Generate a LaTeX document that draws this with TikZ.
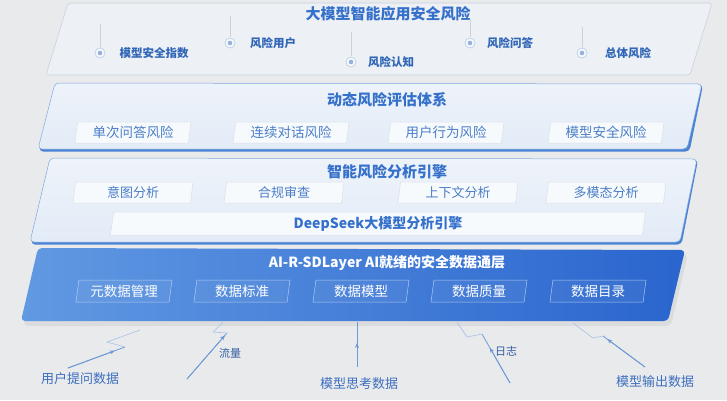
\documentclass[tikz,border=0pt]{standalone}
\usepackage{fontspec}
\setmainfont{Noto Sans CJK SC}
\usetikzlibrary{arrows.meta,calc,shapes.geometric}
\definecolor{bg}{HTML}{E9EAEC}
\definecolor{lonefill}{HTML}{EDF0F4}
\definecolor{loneline}{HTML}{C9D2DF}
\definecolor{ltop}{HTML}{EEF3FA}
\definecolor{lbot}{HTML}{E2EBF7}
\definecolor{ledge}{HTML}{4A82D4}
\definecolor{lline}{HTML}{7FA7E0}
\definecolor{dleft}{HTML}{6199E2}
\definecolor{dright}{HTML}{2A65CE}
\definecolor{ttl}{HTML}{3571CB}
\definecolor{itm}{HTML}{4B7EC7}
\definecolor{lab}{HTML}{3D6FBE}
\definecolor{conn}{HTML}{6E98D6}
\definecolor{connlt}{HTML}{AFC6E7}
\definecolor{vln}{HTML}{CDD2DA}
\tikzset{
  ttlfont/.style={font=\fontsize{15}{18}\selectfont\bfseries, text=ttl, inner sep=0pt},
  oneitem/.style={font=\fontsize{11.5}{14}\selectfont\bfseries, text=ttl!90!black, inner sep=0pt},
  subbox/.style={trapezium, trapezium left angle=78, trapezium right angle=102,
     trapezium stretches body, minimum height=21pt, inner sep=0pt,
     fill=white!55!ltop, draw=black!8!ltop, line width=0.5pt,
     font=\fontsize{13.5}{16}\selectfont, text=itm},
  darkbox/.style={trapezium, trapezium left angle=77, trapezium right angle=103,
     trapezium stretches body, minimum height=22pt, minimum width=96pt, inner sep=0pt,
     fill=white, fill opacity=0.05, text opacity=1, draw=white!60!dleft, draw opacity=0.85, line width=0.5pt,
     font=\fontsize{13.5}{16}\selectfont, text=white},
  ringdot/.style={circle, minimum size=10pt, inner sep=0pt, fill=white!60!lonefill, draw=itm!35!white, line width=0.8pt},
  innerdot/.style={circle, minimum size=4.6pt, inner sep=0pt, fill=itm!60!white},
  vline/.style={draw=vln, line width=0.6pt},
  botlab/.style={font=\fontsize{13}{16}\selectfont, text=lab, inner sep=0pt},
  smalllab/.style={font=\fontsize{11}{14}\selectfont, text=lab!85!black, inner sep=0pt},
  connline/.style={draw=conn, line width=0.8pt},
  connfade/.style={draw=connlt, line width=0.7pt},
  connarrow/.style={draw=conn, line width=0.8pt, -{Stealth[length=5pt,width=4pt]}},
}
\begin{document}
\begin{tikzpicture}[x=1pt,y=-1pt]
\fill[bg] (0,0) rectangle (727,400);
\useasboundingbox (0,0) rectangle (727,400);

% ---------- Layer 1
\path[fill=lonefill, draw=loneline, line width=0.6pt, rounded corners=3pt]
  (68,3)--(712,3)--(690,75)--(46,75)--cycle;
\node[ttlfont] (t1) at (388,14) {大模型智能应用安全风险};

\draw[vline] (100,24)--(100,47);
\node[ringdot] (r1) at (100,53) {}; \node[innerdot] at (r1) {};
\node[oneitem] (i1) at (154,53) {模型安全指数};

\draw[vline] (230,16)--(230,37);
\node[ringdot] (r2) at (230,43) {}; \node[innerdot] at (r2) {};
\node[oneitem] (i2) at (273,43) {风险用户};

\draw[vline] (351,32)--(351,56);
\node[ringdot] (r3) at (351,62) {}; \node[innerdot] at (r3) {};
\node[oneitem] (i3) at (391,62) {风险认知};

\draw[vline] (470,19)--(470,37);
\node[ringdot] (r4) at (470,43) {}; \node[innerdot] at (r4) {};
\node[oneitem] (i4) at (510,43) {风险问答};

\draw[vline] (582,27)--(582,47);
\node[ringdot] (r5) at (582,53) {}; \node[innerdot] at (r5) {};
\node[oneitem] (i5) at (628,53) {总体风险};

% ---------- Layer 2
\fill[ledge, rounded corners=4pt] (56,84)--(703,85)--(689.5,151.5)--(39,151.5)--cycle;
\path[top color=ltop, bottom color=lbot, draw=lline, line width=0.5pt, rounded corners=4pt]
  (55,83)--(702,84)--(687,149)--(38,149)--cycle;
\node[ttlfont] (t2) at (387,100) {动态风险评估体系};
\node[subbox, minimum width=116pt] (b21) at (133,132.5) {单次问答风险};
\node[subbox, minimum width=116pt] (b22) at (291,132.5) {连续对话风险};
\node[subbox, minimum width=116pt] (b23) at (446,132.5) {用户行为风险};
\node[subbox, minimum width=116pt] (b24) at (606,132.5) {模型安全风险};

% ---------- Layer 3
\fill[ledge, rounded corners=4pt] (51,159)--(698,160)--(681.5,244.5)--(31,244.5)--cycle;
\path[top color=ltop, bottom color=lbot, draw=lline, line width=0.5pt, rounded corners=4pt]
  (50,158)--(697,159)--(680,242)--(30,242)--cycle;
\node[ttlfont] (t3) at (387,172) {智能风险分析引擎};
\node[subbox, minimum width=120pt, font=\fontsize{13}{16}\selectfont] (b31) at (133,192.5) {意图分析};
\node[subbox, minimum width=120pt, font=\fontsize{13}{16}\selectfont] (b32) at (284,192.5) {合规审查};
\node[subbox, minimum width=120pt, font=\fontsize{13}{16}\selectfont] (b33) at (458,192.5) {上下文分析};
\node[subbox, minimum width=120pt, font=\fontsize{13}{16}\selectfont] (b34) at (606,192.5) {多模态分析};
\node[subbox, minimum width=535pt, minimum height=23pt, font=\fontsize{14}{16}\selectfont\bfseries, text=ttl] (b35) at (378,223.5) {DeepSeek大模型分析引擎};

% ---------- Layer 4
\fill[black, opacity=0.06, rounded corners=5pt] (40,252)--(688,254)--(671,326)--(23,326)--cycle;
\path[left color=dleft, right color=dright, rounded corners=4pt]
  (38,248)--(685,250)--(668,321)--(21,321)--cycle;
\node[font=\fontsize{14}{16}\selectfont\bfseries, text=white, inner sep=0pt] (t4) at (387,263) {AI-R-SDLayer AI就绪的安全数据通层};
\node[darkbox] (b41) at (124,291) {元数据管理};
\node[darkbox] (b42) at (242,291) {数据标准};
\node[darkbox] (b43) at (361,291) {数据模型};
\node[darkbox] (b44) at (479,291) {数据质量};
\node[darkbox] (b45) at (598,291) {数据目录};

% ---------- bottom labels and connectors
\node[botlab] (u1) at (80,379) {用户提问数据};
\node[smalllab] (u2) at (230,353) {流量};
\node[botlab] (u3) at (359,384) {模型思考数据};
\node[smalllab] (u4) at (506,351) {日志};
\node[botlab] (u5) at (655,382) {模型输出数据};

% 1
\coordinate (a0) at (68,368); \coordinate (a1) at (125,347);
\coordinate (a2) at (107,342); \coordinate (a3) at (140,330);
\draw[connline] (a0)--(a1);
\draw[connarrow] (a0)--($(a0)!0.82!(a1)$);
\draw[connfade] (a1)--(a2)--(a3);
% 2
\coordinate (b0) at (187,379); \coordinate (b1) at (227,333);
\coordinate (b2) at (213,332); \coordinate (b3) at (223,322);
\draw[connline] (b0)--(b1);
\draw[connarrow] (b0)--($(b0)!0.95!(b1)$);
\draw[connfade] (b1)--(b2)--(b3);
% 3
\coordinate (c0) at (357,367); \coordinate (c1) at (357,322);
\draw[connline] (c0)--(c1);
\draw[connarrow] (c0)--(357,343);
% 4
\coordinate (d0) at (510,383); \coordinate (d1) at (482,334);
\coordinate (d2) at (467,337); \coordinate (d3) at (457,322);
\draw[connline] (d0)--(d1);
\draw[connarrow] (d0)--($(d0)!0.72!(d1)$);
\draw[connfade] (d1)--(d2)--(d3);
% 5
\coordinate (e0) at (645,367); \coordinate (e1) at (603,336);
\coordinate (e2) at (593,338); \coordinate (e3) at (573,323);
\draw[connline] (e0)--(e1);
\draw[connarrow] (e0)--($(e0)!0.9!(e1)$);
\draw[connfade] (e1)--(e2)--(e3);
\end{tikzpicture}
\end{document}
